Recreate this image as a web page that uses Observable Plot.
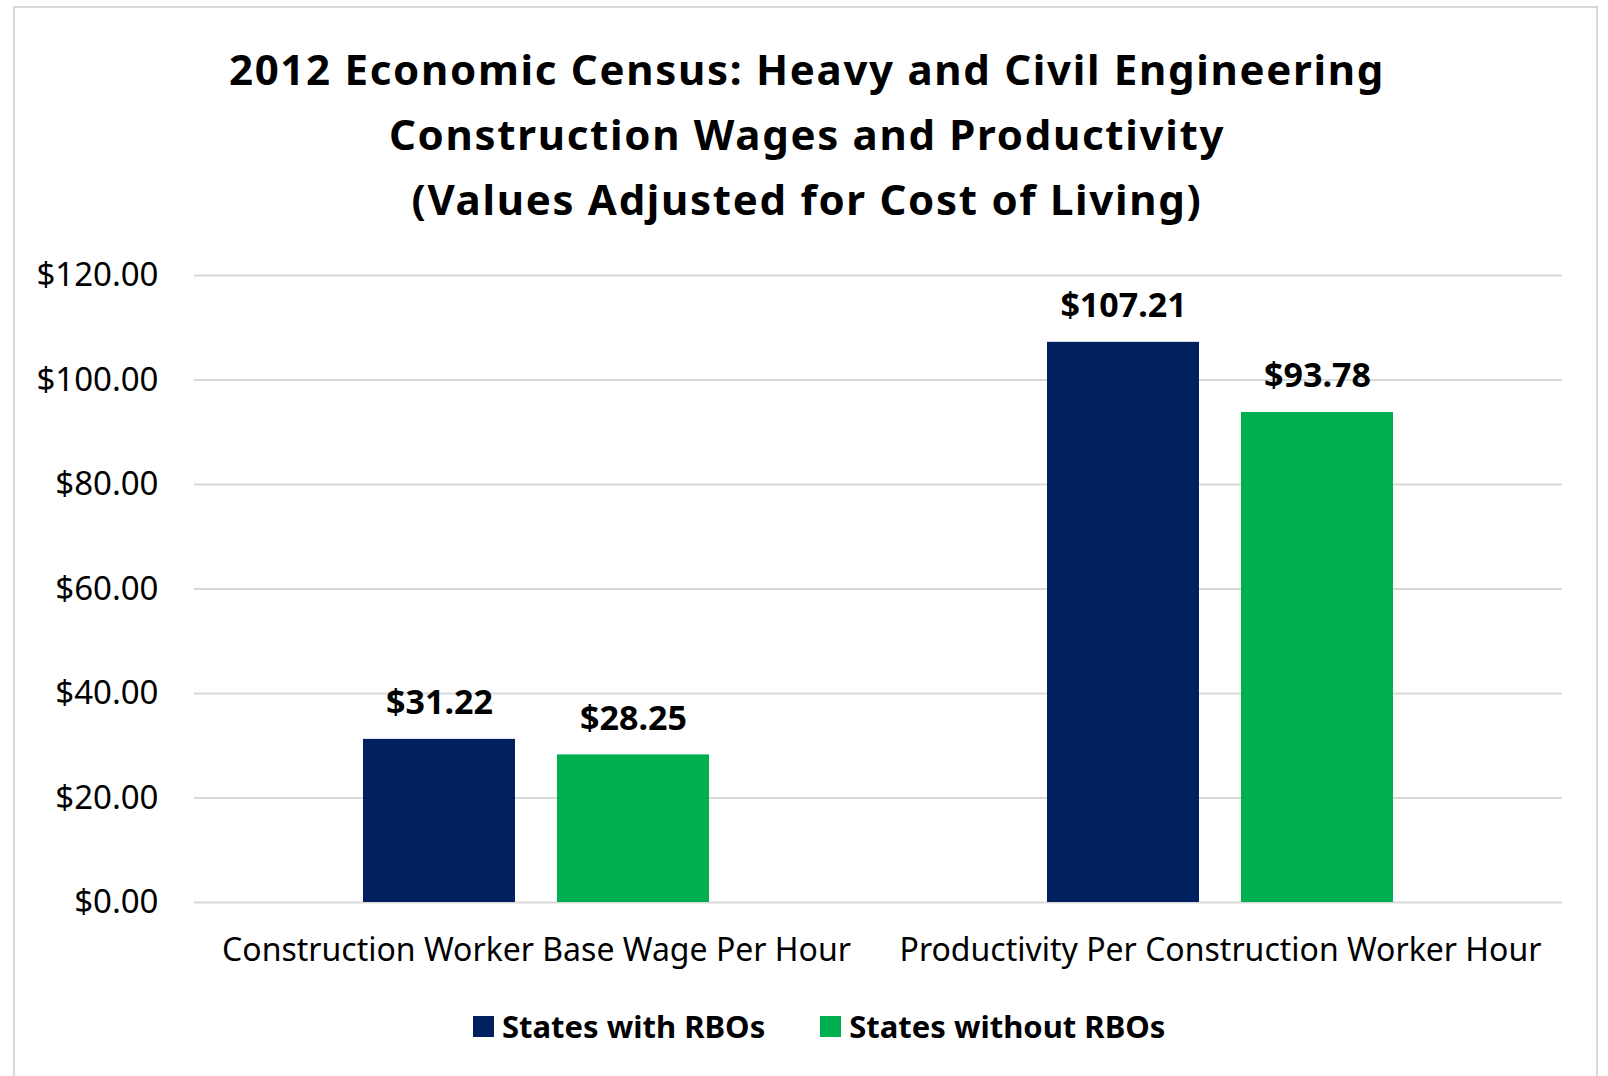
<!DOCTYPE html>
<html>
<head>
<meta charset="utf-8">
<script src="https://cdn.jsdelivr.net/npm/d3@7"></script>
<script src="https://cdn.jsdelivr.net/npm/@observablehq/plot@0.6"></script>
<style>
  html, body { margin: 0; padding: 0; background: #fff; width: 1608px; height: 1076px; overflow: hidden; }
  body { position: relative; font-family: "Noto Sans", "Open Sans", sans-serif; }
  #frame { position: absolute; left: 13px; top: 6px; width: 1585px; height: 1100px; border: 2px solid #d9d9d9; box-sizing: border-box; }
  #title { position: absolute; left: 14px; width: 1586px; top: 36px; text-align: center; font-weight: 700; font-size: 42px; letter-spacing: 1.7px; line-height: 65px; color: #000; }
  #chart { position: absolute; left: 0; top: 230px; }
  #legend { position: absolute; left: 473px; top: 1005px; display: flex; align-items: center; font-weight: 700; font-size: 31px; color: #000; line-height: 42px; }
  .sw { width: 21px; height: 21px; display: inline-block; margin-right: 8px; }
  .item { display: flex; align-items: center; margin-right: 55px; }
</style>
</head>
<body>
<div id="frame"></div>
<div id="title">2012 Economic Census: Heavy and Civil Engineering<br>Construction Wages and Productivity<br>(Values Adjusted for Cost of Living)</div>
<div id="chart"></div>
<div id="legend"></div>
<script>
const categories = ["Construction Worker Base Wage Per Hour", "Productivity Per Construction Worker Hour"];
const seriesNames = ["States with RBOs", "States without RBOs"];
const seriesColors = ["#002060", "#00B050"];
const withRBOs = [31.22, 107.21];
const withoutRBOs = [28.25, 93.78];
const yTicks = [0, 20, 40, 60, 80, 100, 120];

const data = [];
categories.forEach((c, i) => {
  data.push({category: c, series: seriesNames[0], value: withRBOs[i]});
  data.push({category: c, series: seriesNames[1], value: withoutRBOs[i]});
});

const fmt = d => "$" + d.toFixed(2);

const chart = Plot.plot({
  width: 1608,
  height: 762,
  marginTop: 45,
  marginBottom: 90,
  marginLeft: 193,
  marginRight: 46,
  style: { fontFamily: "'Noto Sans', 'Open Sans', sans-serif", color: "#000", background: "transparent" },
  fx: { domain: categories, padding: 0, label: null },
  x: { domain: seriesNames, paddingInner: 0.214, paddingOuter: 0.865, axis: null },
  y: { domain: [0, 120], label: null },
  color: { domain: seriesNames, range: seriesColors },
  marks: [
    Plot.gridY(yTicks, { stroke: "#d9d9d9", strokeOpacity: 1, strokeWidth: 2 }),
    Plot.axisY(yTicks, { tickSize: 0, tickPadding: 36, tickFormat: fmt, fontSize: 33, label: null, fill: "#000" }),
    Plot.axisFx({ anchor: "bottom", tickSize: 0, tickPadding: 36, fontSize: 32, label: null, fill: "#000" }),
    Plot.barY(data, { fx: "category", x: "series", y: "value", fill: "series" }),
    Plot.text(data, { fx: "category", x: "series", y: "value", text: d => fmt(d.value), dy: -36, fontSize: 34, fontWeight: "bold", fill: "#000" })
  ]
});
document.getElementById("chart").appendChild(chart);

const legend = document.getElementById("legend");
seriesNames.forEach((s, i) => {
  const item = document.createElement("div");
  item.className = "item";
  const sw = document.createElement("span");
  sw.className = "sw";
  sw.style.background = seriesColors[i];
  item.appendChild(sw);
  item.appendChild(document.createTextNode(s));
  legend.appendChild(item);
});
</script>
</body>
</html>
